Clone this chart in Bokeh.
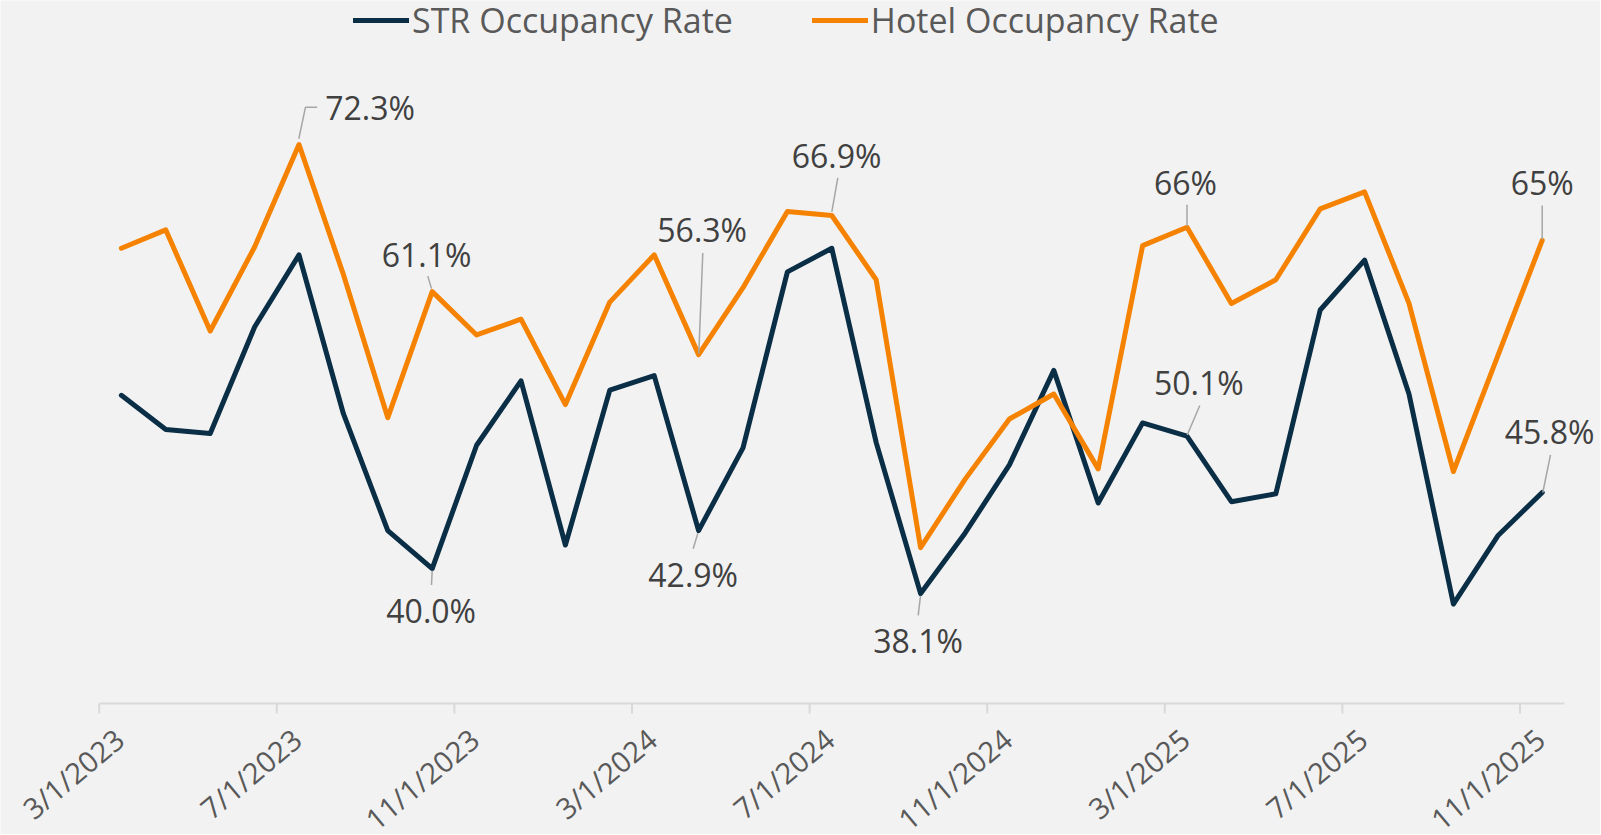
import numpy as np
import pandas as pd
from bokeh.plotting import figure
from bokeh.models import ColumnDataSource, Range1d, LabelSet, Legend, LegendItem
from bokeh.core.properties import value
from bokeh.embed import file_html
from bokeh.resources import INLINE

# ---------------- data ----------------
months = [f"{d.month}/1/{d.year}" for d in pd.date_range("2023-03-01", "2025-11-01", freq="MS")]
str_occ = [53.2, 50.6, 50.3, 58.4, 63.9, 51.8, 42.9, 40.0, 49.4, 54.3, 41.8, 53.6, 54.7, 42.9, 49.2,
           62.6, 64.4, 49.6, 38.1, 42.7, 47.9, 55.1, 45.0, 51.1, 50.1, 45.1, 45.7, 59.7, 63.5, 53.3,
           37.3, 42.5, 45.8]
hotel_occ = [64.4, 65.8, 58.1, 64.5, 72.3, 62.4, 51.5, 61.1, 57.8, 59.0, 52.5, 60.3, 63.9, 56.3, 61.4,
             67.2, 66.9, 62.0, 41.6, 46.8, 51.4, 53.3, 47.6, 64.6, 66.0, 60.2, 62.0, 67.4, 68.7, 60.2,
             47.4, 56.2, 65.0]
tick_labels = ["3/1/2023", "7/1/2023", "11/1/2023", "3/1/2024", "7/1/2024",
               "11/1/2024", "3/1/2025", "7/1/2025", "11/1/2025"]

# data labels: series, month, text
label_series = ["hotel", "hotel", "str", "hotel", "str", "hotel", "str", "hotel", "str", "hotel", "str"]
label_month = ["7/1/2023", "10/1/2023", "10/1/2023", "4/1/2024", "4/1/2024", "7/1/2024",
               "9/1/2024", "3/1/2025", "3/1/2025", "11/1/2025", "11/1/2025"]
label_text = ["72.3%", "61.1%", "40.0%", "56.3%", "42.9%", "66.9%", "38.1%", "66%", "50.1%", "65%", "45.8%"]

# ---------------- style / layout ----------------
label_dx = [71, -5.7, -1, 3.6, -5.4, 4.7, -2.6, -1.5, 11.8, 0, 7.3]          # px from point
label_dy = [-37, -36.9, 41.4, -124.9, 43.9, -59.6, 46.8, -44.7, -53.5, -57.9, -61]
leader_pts = [
    [(-0.2, -5.8), (6.5, -37.4), (18.2, -37.4)],
    [(-4.4, -15.5), (-0.7, -3)],
    [(0, 2), (-0.7, 16.4)],
    [(4.2, -101.7), (0.2, -1)],
    [(-0.8, 2.8), (-5.4, 18.1)],
    [(6, -37.5), (0, -3.6)],
    [(-0.1, 2.2), (-2.4, 21.8)],
    [(0, -22.5), (0, -1)],
    [(12.8, -30.6), (0.2, -1)],
    [(0, -35), (0, -1)],
    [(8.3, -37.7), (0.6, 0)],
]

BG = "#F2F2F2"
STR_C = "#0A2E45"
HOT_C = "#F58200"
AX_C = "#D9D9D9"
W, H = 1600, 834
N = len(months)
PX_X = 44.4          # px per month
PX_Y = 13.13         # px per percentage point
X0_PX = 98.7         # screen x of the axis start
AXIS_PX = 703        # screen y of the axis line
AXIS_V = 29.73       # value at the axis line
TICK_LEN = 10

x_start = -X0_PX / PX_X
x_end = (W - X0_PX) / PX_X
y_end = AXIS_V + AXIS_PX / PX_Y
y_start = AXIS_V - (H - AXIS_PX) / PX_Y

p = figure(width=W, height=H, output_backend="svg", toolbar_location=None,
           x_range=Range1d(x_start, x_end), y_range=Range1d(y_start, y_end),
           x_axis_location=None, y_axis_location=None,
           min_border=0, background_fill_color=BG, border_fill_color=BG,
           outline_line_color=None)
p.grid.visible = False

xpos = np.arange(N) + 0.5
src = ColumnDataSource(dict(x=xpos, str_occ=str_occ, hotel_occ=hotel_occ, month=months))
r_str = p.line("x", "str_occ", source=src, line_color=STR_C, line_width=5,
               line_join="round", line_cap="round")
r_hot = p.line("x", "hotel_occ", source=src, line_color=HOT_C, line_width=5,
               line_join="round", line_cap="round")

# category axis: line, tick marks, rotated labels
tick_pos = [months.index(t) for t in tick_labels]
p.segment(x0=[0], y0=[AXIS_V], x1=[N], y1=[AXIS_V], line_color=AX_C, line_width=2)
p.segment(x0=tick_pos, y0=[AXIS_V] * len(tick_pos), x1=tick_pos,
          y1=[AXIS_V - TICK_LEN / PX_Y] * len(tick_pos), line_color=AX_C, line_width=2)
tick_src = ColumnDataSource(dict(
    x=[t + 20 / PX_X for t in tick_pos],
    y=[AXIS_V - 31 / PX_Y] * len(tick_pos),
    text=tick_labels))
p.add_layout(LabelSet(x="x", y="y", text="text", source=tick_src, angle=0.70,
                      text_align="right", text_baseline="middle",
                      text_font=value("Open Sans"), text_font_size="29px",
                      text_color="#595959"))

# data labels and leader lines
lx, ly, lxs, lys = [], [], [], []
for s, m, dx, dy, pts in zip(label_series, label_month, label_dx, label_dy, leader_pts):
    i = months.index(m)
    v = hotel_occ[i] if s == "hotel" else str_occ[i]
    x0 = xpos[i]
    lx.append(x0 + dx / PX_X)
    ly.append(v - dy / PX_Y)
    lxs.append([x0 + a / PX_X for a, b in pts])
    lys.append([v - b / PX_Y for a, b in pts])

p.multi_line(xs=lxs, ys=lys, line_color="#A6A6A6", line_width=1.5)
lab_src = ColumnDataSource(dict(x=lx, y=ly, text=label_text))
p.add_layout(LabelSet(x="x", y="y", text="text", source=lab_src,
                      text_align="center", text_baseline="middle",
                      text_font=value("Open Sans"), text_font_size="32px",
                      text_color="#404040"))

legend = Legend(items=[LegendItem(label="STR Occupancy Rate", renderers=[r_str]),
                       LegendItem(label="Hotel Occupancy Rate", renderers=[r_hot])],
                orientation="horizontal", location=(353, 791),
                label_text_font="Open Sans", label_text_font_size="34px",
                label_text_color="#595959", glyph_width=56, glyph_height=20,
                label_standoff=3, spacing=79, padding=0, margin=0,
                border_line_color=None, background_fill_alpha=0)
p.add_layout(legend, "center")

open("out.html", "w").write(file_html(p, INLINE))
